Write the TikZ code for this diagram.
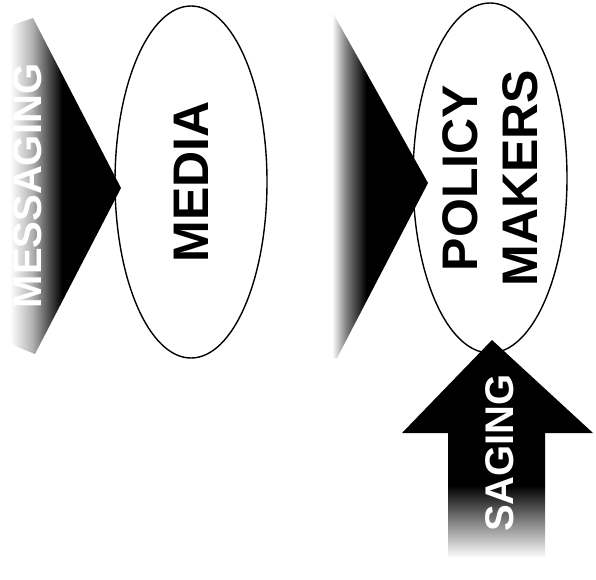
\documentclass[tikz,border=0pt]{standalone}
\usepackage{fontspec}
\setmainfont{Liberation Sans}
\usepackage{tikz}
\usetikzlibrary{shapes.geometric, positioning}

% fades for the arrows, set at their natural size (1bp ~ 1 pixel)
\pgfdeclarehorizontalshading{fadeMedia}{345bp}{color(0bp)=(white); color(10bp)=(white); color(32bp)=(black!30); color(62bp)=(black); color(125bp)=(black)}
\pgfdeclarehorizontalshading{fadePolicy}{352bp}{color(0bp)=(white); color(16bp)=(white); color(30bp)=(black!50); color(50bp)=(black); color(115bp)=(black)}
\pgfdeclareverticalshading{fadeUp}{195bp}{color(0bp)=(white); color(8bp)=(white); color(45bp)=(black!50); color(80bp)=(black); color(230bp)=(black)}

\begin{document}
\begin{tikzpicture}[
        x=1pt, y=-1pt,
        bubble/.style={ellipse, draw=black, line width=1.4pt, fill=white, inner sep=0pt, outer sep=0pt, align=center, font=\bfseries\fontsize{50}{60}\selectfont, rotate=90},
        arrowtext/.style={text=white, inner sep=0pt, font=\bfseries\fontsize{40}{40}\selectfont, rotate=90},
        fadebox/.style={inner sep=0pt, outer sep=0pt}
    ]
        \useasboundingbox[fill=white] (0,0) rectangle (596,579);

        % Audiences
        \node[bubble, minimum width=352pt, minimum height=152pt] (media) at (191,182) {MEDIA};
        \node[bubble, minimum width=350pt, minimum height=154pt] (policy) at (490,178) {POLICY\\MAKERS};

        % Arrow points
        \coordinate (mtip) at (121,188);
        \coordinate (ptip) at (428,183);
        \coordinate (btip) at (492,340);

        % Messaging into media
        \begin{scope}
            \clip (0,40) -- (15,24) -- (33,18) -- (mtip) -- (35,354) -- (15,346) -- (0,330) -- cycle;
            \node[fadebox, anchor=north west] (mfade) at (0,14) {\pgfuseshading{fadeMedia}};
        \end{scope}
        \node[arrowtext] (msgleft) at (28,186) {MESSAGING};

        % Messaging into policy makers
        \begin{scope}
            \clip (318,13) -- (333,13) -- (ptip) -- (337,358) -- (318,358) -- cycle;
            \node[fadebox, anchor=north west] (pfade) at (316,9) {\pgfuseshading{fadePolicy}};
        \end{scope}

        % Messaging from below
        \begin{scope}
            \clip (btip) -- (593,433) -- (545,433) -- (545,562) -- (448,562) -- (448,433) -- (402,433) -- cycle;
            \node[fadebox, anchor=south west] (bfade) at (400,566) {\pgfuseshading{fadeUp}};
        \end{scope}
        \node[arrowtext] (msgup) at (500,453) {SAGING};

    \end{tikzpicture}
\end{document}
